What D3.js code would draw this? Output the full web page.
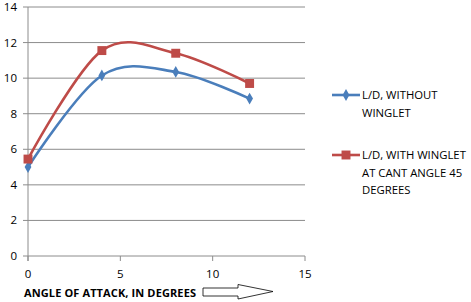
<!DOCTYPE html>
<html><head><meta charset="utf-8">
<script src="https://cdn.jsdelivr.net/npm/d3@7"></script>
<style>body{margin:0;background:#fff;}svg{display:block;}text{font-family:"Open Sans","Liberation Sans",sans-serif;}</style>
</head><body>
<svg id="c" width="471" height="302"></svg>
<script>
const angles = [0, 4, 8, 12];
const withoutWinglet = [5.0, 10.15, 10.35, 8.85];
const withWinglet = [5.45, 11.55, 11.4, 9.7];
const xTicks = [0, 5, 10, 15];
const yTicks = [0, 2, 4, 6, 8, 10, 12, 14];
const seriesNames = [["L/D, WITHOUT", "WINGLET"], ["L/D, WITH WINGLET", "AT CANT ANGLE 45", "DEGREES"]];
const xTitle = "ANGLE OF ATTACK, IN DEGREES";

const svg = d3.select("#c");
const x = d3.scaleLinear().domain([0, 15]).range([28, 305]);
const y = d3.scaleLinear().domain([0, 14]).range([256, 7]);
const grid = "#8c8c8c";

svg.append("g").selectAll("line").data(yTicks).join("line")
  .attr("x1", x(0) - 5).attr("x2", x(15))
  .attr("y1", d => y(d)).attr("y2", d => y(d))
  .attr("stroke", grid).attr("stroke-width", 1);
svg.append("line").attr("x1", x(0)).attr("x2", x(0)).attr("y1", y(14)).attr("y2", y(0) + 5)
  .attr("stroke", grid);
svg.append("g").selectAll("line").data(xTicks).join("line")
  .attr("x1", d => x(d)).attr("x2", d => x(d)).attr("y1", y(0)).attr("y2", y(0) + 5)
  .attr("stroke", grid);
svg.append("g").selectAll("text").data(yTicks).join("text")
  .attr("x", 17).attr("y", d => y(d) + 4).attr("text-anchor", "end")
  .attr("font-size", 11.5).attr("fill", "#000").text(d => d);
svg.append("g").selectAll("text").data(xTicks).join("text")
  .attr("x", d => x(d)).attr("y", 278).attr("text-anchor", "middle")
  .attr("font-size", 11.5).attr("fill", "#000").text(d => d);
svg.append("text").attr("x", 24).attr("y", 297).attr("font-size", 11).attr("font-weight", "bold")
  .attr("fill", "#000").attr("textLength", 172).text(xTitle);
svg.append("path").attr("d", "M203,288 L238,288 L238,284.5 L273,291.5 L238,299 L238,296 L203,296 Z")
  .attr("fill", "#fff").attr("stroke", "#000").attr("stroke-width", 0.8);

const series = [
  {vals: withoutWinglet, color: "#4a7ebb", shape: d3.symbolDiamond, size: 40},
  {vals: withWinglet, color: "#be4b48", shape: d3.symbolSquare, size: 80}
];
const line = d3.line().x(d => x(d[0])).y(d => y(d[1])).curve(d3.curveCardinal.tension(0));
series.forEach(s => {
  const pts = angles.map((a, i) => [a, s.vals[i]]);
  svg.append("path").attr("d", line(pts)).attr("fill", "none")
    .attr("stroke", s.color).attr("stroke-width", 2.6);
  svg.append("g").selectAll("path").data(pts).join("path")
    .attr("transform", d => `translate(${x(d[0])},${y(d[1])})`)
    .attr("d", d3.symbol().type(s.shape).size(s.size)).attr("fill", s.color);
});

const legY = [95, 155];
series.forEach((s, i) => {
  const g = svg.append("g");
  g.append("line").attr("x1", 332).attr("x2", 360).attr("y1", legY[i]).attr("y2", legY[i])
    .attr("stroke", s.color).attr("stroke-width", 2.6);
  g.append("path").attr("transform", `translate(346,${legY[i]})`)
    .attr("d", d3.symbol().type(s.shape).size(s.size)).attr("fill", s.color);
  seriesNames[i].forEach((t, j) => {
    g.append("text").attr("x", 362).attr("y", legY[i] + 4 + j * 17.5)
      .attr("font-size", 11.3).attr("fill", "#000").text(t);
  });
});
</script>
</body></html>
